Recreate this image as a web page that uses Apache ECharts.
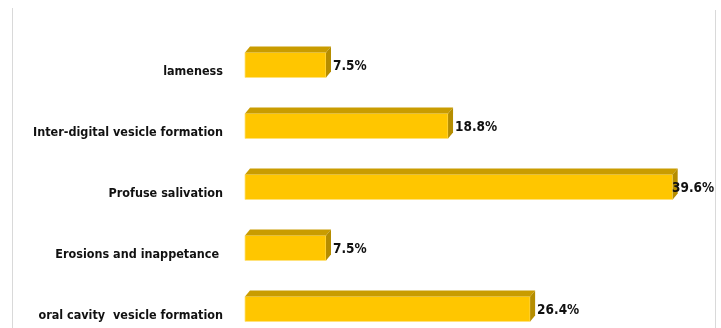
<!DOCTYPE html>
<html>
<head>
<meta charset="utf-8">
<script src="https://cdn.jsdelivr.net/npm/echarts@6/dist/echarts.min.js"></script>
<style>
  html, body { margin: 0; padding: 0; background: #fff; }
  #chart { width: 721px; height: 328px; }
</style>
</head>
<body>
<div id="chart"></div>
<script>
const categories = [
  'lameness',
  'Inter-digital vesicle formation',
  'Profuse salivation',
  'Erosions and inappetance ',
  'oral cavity  vesicle formation'
]
const values = [7.5, 18.8, 39.6, 7.5, 26.4]

const chart = echarts.init(document.getElementById('chart'), null, { renderer: 'canvas' })
const fontFam = '"DejaVu Sans Condensed", "Noto Sans", sans-serif'
const frontColor = '#FFC600'
const topColor = '#C99C00'
const sideColor = '#B58D00'
const depthX = 5
const depthY = 6
const halfH = 12.5

// 3d bar: front face + top face + side face, all from the axis scales
function renderBar(params, api) {
  const v = api.value(0)
  const start = api.coord([0, api.value(1)])
  const end = api.coord([v, api.value(1)])
  const x0 = start[0]
  const x1 = end[0]
  const yc = start[1]
  const yt = yc - halfH
  const yb = yc + halfH
  const labelX = Math.min(x1 + depthX + 2, params.coordSys.x + params.coordSys.width - 5)
  return {
    type: 'group',
    children: [
      {
        type: 'rect',
        shape: { x: x0, y: yt, width: x1 - x0, height: yb - yt },
        style: { fill: frontColor, stroke: '#FFE27A', lineWidth: 0.8 }
      },
      {
        type: 'polygon',
        shape: { points: [[x0, yt], [x0 + depthX, yt - depthY], [x1 + depthX, yt - depthY], [x1, yt]] },
        style: { fill: topColor }
      },
      {
        type: 'polygon',
        shape: { points: [[x1, yt], [x1 + depthX, yt - depthY], [x1 + depthX, yb - depthY], [x1, yb]] },
        style: { fill: sideColor }
      },
      {
        type: 'text',
        z2: 10,
        style: {
          x: labelX,
          y: yc + 1,
          text: v.toFixed(1) + '%',
          fill: '#111',
          font: 'bold 13.5px ' + fontFam,
          verticalAlign: 'middle',
          align: 'left'
        }
      }
    ]
  }
}

chart.setOption({
  animation: false,
  grid: { left: 245, right: 44, top: 65, bottom: 19 },
  xAxis: {
    type: 'value',
    min: 0,
    max: 40,
    show: false
  },
  yAxis: {
    type: 'category',
    data: categories,
    inverse: true,
    boundaryGap: false,
    axisLine: { show: false },
    axisTick: { show: false },
    splitLine: { show: false },
    axisLabel: {
      margin: 22,
      color: '#111',
      fontSize: 12.5,
      fontWeight: 'bold',
      fontFamily: fontFam,
      verticalAlign: 'top'
    }
  },
  graphic: [
    { type: 'line', shape: { x1: 12.5, y1: 8, x2: 12.5, y2: 328 }, style: { stroke: '#D9D9D9', lineWidth: 1 } },
    { type: 'line', shape: { x1: 715.5, y1: 10, x2: 715.5, y2: 328 }, style: { stroke: '#D9D9D9', lineWidth: 1 } }
  ],
  series: [
    {
      type: 'custom',
      renderItem: renderBar,
      encode: { x: 0, y: 1 },
      data: values.map((v, i) => [v, i]),
      clip: false
    }
  ]
})
</script>
</body>
</html>
